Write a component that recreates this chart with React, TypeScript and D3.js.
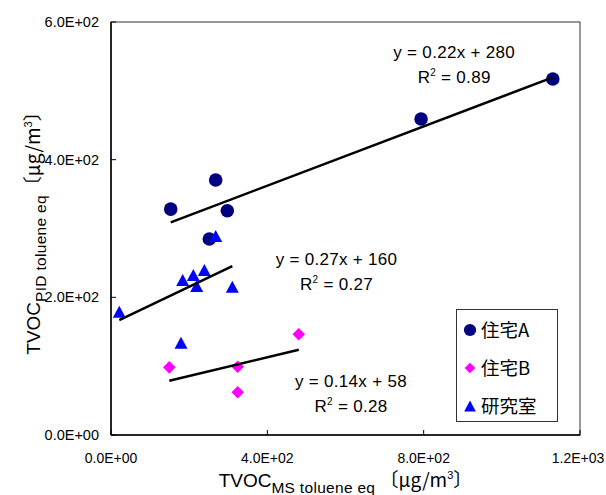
import React from "react";
import * as d3 from "d3";

// Measured TVOC concentrations (toluene equivalent, µg/m³)
const seriesNames = ["住宅A", "住宅B", "研究室"];
const houseAX = [152.8, 267.9, 297.6, 251.6, 793.4, 1130.4];
const houseAY = [328.2, 370.4, 325.8, 284.7, 459.0, 517.1];
const houseBX = [149.2, 324.2, 324.2, 480.4];
const houseBY = [98.3, 99.2, 62.0, 146.3];
const labX = [21.2, 183.5, 210.6, 238.8, 219.3, 310.4, 267.9, 179.1];
const labY = [179.1, 225.1, 232.4, 239.6, 216.4, 215.4, 289.0, 134.1];

// Linear trend lines (y = slope * x + intercept) for each series
const slopes = [0.2155, 0.136, 0.272];
const intercepts = [276, 58.4, 161];
const rSquared = ["0.89", "0.28", "0.27"];

const xTicks = [0, 400, 800, 1200];
const yTicks = [0, 200, 400, 600];

const W = 606;
const H = 495;
const M = { left: 111, right: 580, top: 22, bottom: 435 };

const FONT = "'Liberation Sans', Arial, sans-serif";
const CJK = "'Noto Sans CJK JP', sans-serif";

const colors = ["#000080", "#FF00FF", "#0000FF"];

function sci(v: number): string {
  if (v === 0) return "0.0E+00";
  const e = Math.floor(Math.log10(Math.abs(v)));
  const m = v / Math.pow(10, e);
  return `${m.toFixed(1)}E${e < 0 ? "-" : "+"}${String(Math.abs(e)).padStart(2, "0")}`;
}

const fmt2 = d3.format(".2r");

function circlePath(cx: number, cy: number, r: number) {
  const p = d3.path();
  p.moveTo(cx + r, cy);
  p.arc(cx, cy, r, 0, Math.PI * 2);
  return p.toString();
}
function diamondPath(cx: number, cy: number, r: number) {
  const p = d3.path();
  p.moveTo(cx, cy - r);
  p.lineTo(cx + r, cy);
  p.lineTo(cx, cy + r);
  p.lineTo(cx - r, cy);
  p.closePath();
  return p.toString();
}
function trianglePath(cx: number, cy: number, w: number, h: number) {
  const p = d3.path();
  p.moveTo(cx, cy - h / 2);
  p.lineTo(cx + w / 2, cy + h / 2);
  p.lineTo(cx - w / 2, cy + h / 2);
  p.closePath();
  return p.toString();
}

export default function App() {
  const x = d3.scaleLinear().domain([0, 1200]).range([M.left, M.right]);
  const y = d3.scaleLinear().domain([0, 600]).range([M.bottom, M.top]);

  const series = [
    { xs: houseAX, ys: houseAY },
    { xs: houseBX, ys: houseBY },
    { xs: labX, ys: labY },
  ];

  const line = d3
    .line<[number, number]>()
    .x((d) => x(d[0]))
    .y((d) => y(d[1]));

  // Equation label anchors in data units (centre x, baseline y)
  const eqAnchors: [number, number][] = [
    [878, 548],
    [614, 69.5],
    [577, 247],
  ];

  const marker = (s: number, cx: number, cy: number, k: number, scale = 1) => {
    if (s === 0)
      return <path key={k} d={circlePath(cx, cy, 6.8 * scale)} fill={colors[0]} />;
    if (s === 1)
      return <path key={k} d={diamondPath(cx, cy, 6.3 * scale)} fill={colors[1]} />;
    return (
      <path key={k} d={trianglePath(cx, cy, 13 * scale, 12 * scale)} fill={colors[2]} />
    );
  };

  const sub = { fontSize: 15.5, letterSpacing: 0.3 };

  return (
    <svg
      width={W}
      height={H}
      style={{ position: "absolute", left: 0, top: 0, background: "#fff" }}
      fontFamily={FONT}
    >
      <rect x={0} y={0} width={W} height={H} fill="#fff" />

      {/* plot frame */}
      <rect
        x={M.left}
        y={M.top}
        width={M.right - M.left}
        height={M.bottom - M.top}
        fill="none"
        stroke="#333"
        strokeWidth={1}
      />
      <line x1={M.left} x2={M.left} y1={M.top} y2={M.bottom} stroke="#000" strokeWidth={1.5} />
      <line x1={M.left} x2={M.right} y1={M.bottom} y2={M.bottom} stroke="#000" strokeWidth={1.5} />

      {/* ticks */}
      {xTicks.map((t) => (
        <g key={"xt" + t}>
          <line x1={x(t)} x2={x(t)} y1={M.bottom} y2={M.bottom - 5} stroke="#000" />
          <text x={Math.min(x(t), 578)} y={M.bottom + 28} textAnchor="middle" fontSize={14}>
            {sci(t)}
          </text>
        </g>
      ))}
      {yTicks.map((t) => (
        <g key={"yt" + t}>
          <line x1={M.left} x2={M.left + 5} y1={y(t)} y2={y(t)} stroke="#000" />
          <text x={99} y={y(t) + 5} textAnchor="end" fontSize={14.5}>
            {sci(t)}
          </text>
        </g>
      ))}

      {/* axis titles */}
      <text x={(M.left + M.right) / 2} y={487} textAnchor="middle" fontSize={19}>
        TVOC
        <tspan {...sub} dy={6}>
          MS toluene eq
        </tspan>
        <tspan dy={-6} fontFamily={CJK} fontSize={19} letterSpacing={0}>
          {" 〔μg/m"}
        </tspan>
        <tspan dy={-8} fontSize={11}>
          3
        </tspan>
        <tspan dy={8} fontFamily={CJK} fontSize={19}>
          〕
        </tspan>
      </text>
      <text
        transform={`translate(40,${(M.top + M.bottom) / 2}) rotate(-90)`}
        textAnchor="middle"
        fontSize={19}
      >
        TVOC
        <tspan {...sub} dy={6}>
          PID toluene eq
        </tspan>
        <tspan dy={-6} fontFamily={CJK} fontSize={19} letterSpacing={0}>
          〔μg/m
        </tspan>
        <tspan dy={-8} fontSize={11}>
          3
        </tspan>
        <tspan dy={8} fontFamily={CJK} fontSize={19}>
          〕
        </tspan>
      </text>

      {/* points */}
      {series.map((s, si) => (
        <g key={"s" + si}>{s.xs.map((xv, i) => marker(si, x(xv), y(s.ys[i]), i))}</g>
      ))}

      {/* trend lines */}
      {series.map((s, si) => {
        const x0 = d3.min(s.xs)!;
        const x1 = d3.max(s.xs)!;
        const pts: [number, number][] = [
          [x0, slopes[si] * x0 + intercepts[si]],
          [x1, slopes[si] * x1 + intercepts[si]],
        ];
        return (
          <path key={"tl" + si} d={line(pts)!} fill="none" stroke="#000" strokeWidth={2.5} />
        );
      })}

      {/* equation labels */}
      {eqAnchors.map((a, si) => {
        const cx = x(a[0]);
        const by = y(a[1]);
        return (
          <g key={"eq" + si} fontSize={17} letterSpacing={0.3}>
            <text x={cx} y={by} textAnchor="middle">
              {`y = ${fmt2(slopes[si])}x + ${fmt2(intercepts[si])}`}
            </text>
            <text x={cx} y={by + 25} textAnchor="middle">
              R<tspan dy={-7} fontSize={10}>2</tspan>
              <tspan dy={7}>{` = ${rSquared[si]}`}</tspan>
            </text>
          </g>
        );
      })}

      {/* legend */}
      <rect x={456.5} y={309.5} width={101} height={112} fill="#fff" stroke="#333" strokeWidth={1} />
      {seriesNames.map((n, i) => (
        <g key={"lg" + i}>
          {marker(i, 470, 330 + i * 38, i, i === 1 ? 0.85 : 0.9)}
          <text x={481} y={330 + i * 38 + 7} fontSize={18.5} fontFamily={CJK}>
            {n}
          </text>
        </g>
      ))}
    </svg>
  );
}
